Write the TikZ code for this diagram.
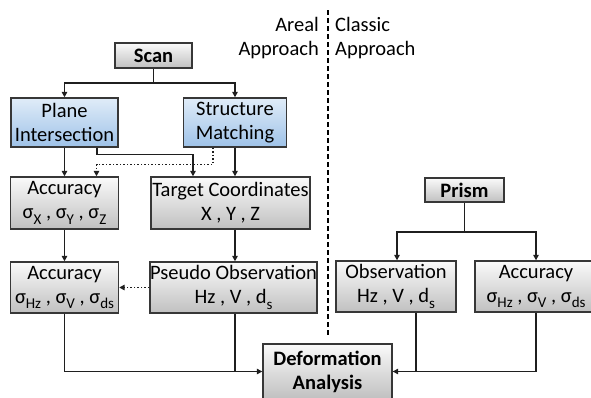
\documentclass[tikz,border=0pt]{standalone}
\usepackage{fontspec}
\setmainfont{Carlito}
\usetikzlibrary{arrows.meta,calc}
\definecolor{bluetop}{RGB}{224,236,248}
\definecolor{bluebot}{RGB}{158,194,232}
\definecolor{greytop}{RGB}{250,250,250}
\definecolor{greybot}{RGB}{192,192,192}
\definecolor{edge}{RGB}{55,55,55}
\newcommand\sbs[1]{\raisebox{-0.27em}{\fontsize{15}{15}\selectfont #1}}
\begin{document}
\begin{tikzpicture}[x=1pt,y=-1pt,
  box/.style={draw=edge, line width=1.4pt, top color=greytop, bottom color=greybot,
    align=center, font=\fontsize{20.5}{24}\selectfont, inner sep=0pt},
  bbox/.style={box, font=\fontsize{20.5}{24}\selectfont\bfseries},
  bluebox/.style={box, top color=bluetop, bottom color=bluebot},
  lbl/.style={font=\fontsize{20.5}{24}\selectfont, inner sep=0pt},
  conn/.style={line width=1.5pt, draw=black!88},
  arr/.style={conn, -{Triangle[length=5.5pt,width=5.5pt]}},
  darr/.style={arr, dotted, line width=1.5pt},
  sep/.style={line width=1.4pt, dash pattern=on 5pt off 3pt}]
\useasboundingbox (0,0) rectangle (591,397);

% separator and titles
\coordinate (dtop) at (328,10);
\coordinate (dbot) at (328,335);
\draw[sep] (dtop) -- (dbot);
\node[lbl, anchor=east, align=right] (areal) at (319,38) {Areal\\Approach};
\node[lbl, anchor=west, align=left] (classic) at (335,38) {Classic\\Approach};

% areal approach
\node[bbox, minimum width=77, minimum height=25] (scan) at (153.5,55.5) {Scan};
\node[bluebox, minimum width=107, minimum height=49] (plane) at (64.5,122.5) {Plane\\Intersection};
\node[bluebox, minimum width=103, minimum height=49] (struct) at (235,122.5) {Structure\\Matching};
\node[box, minimum width=108, minimum height=52] (acc1) at (64.5,203) {Accuracy\\σ\sbs{X} , σ\sbs{Y} , σ\sbs{Z}};
\node[box, minimum width=159, minimum height=52] (target) at (230.5,203) {Target Coordinates\\X , Y , Z};
\node[box, minimum width=108, minimum height=51] (acc2) at (64.5,287.5) {Accuracy\\σ\sbs{Hz} , σ\sbs{V} , σ\sbs{ds}};
\node[box, minimum width=165, minimum height=51] (pseudo) at (233.5,287.5) {Pseudo Observation\\Hz , V , d\sbs{s}};
\node[bbox, minimum width=129, minimum height=55] (deform) at (327.5,371.5) {Deformation\\Analysis};

% classic approach
\node[bbox, minimum width=79, minimum height=24] (prism) at (464.5,190) {Prism};
\node[box, minimum width=120, minimum height=51] (obs) at (396,286.5) {Observation\\Hz , V , d\sbs{s}};
\node[box, minimum width=122, minimum height=51] (acc3) at (536,286.5) {Accuracy\\σ\sbs{Hz} , σ\sbs{V} , σ\sbs{ds}};

% connectors: areal
\coordinate (sfork) at (153.5,83);
\draw[conn] (scan.south) -- (sfork);
\draw[arr] (sfork) -| (plane);
\draw[arr] (sfork) -| (struct);
\draw[arr] (plane) -- (acc1);
\draw[arr] ($(plane.south)+(32.5,0)$) |- ($(target.north)+(-37.5,-22)$) -- ($(target.north)+(-37.5,0)$);
\draw[arr] (struct.south) -- (struct.south |- target.north);
\draw[darr] ($(struct.south)+(-22,0)$) |- ($(acc1.north)+(32,-12)$) -- ($(acc1.north)+(32,0)$);
\draw[arr] (target.south -| struct.south) -- (pseudo.north -| struct.south);
\draw[arr] (acc1) -- (acc2);
\draw[darr] (pseudo.west) -- (acc2.east);
\draw[arr] (acc2) |- (deform.west);
\coordinate (pjoin) at (deform.west -| struct.south);
\draw[conn] (pseudo.south -| struct.south) -- (pjoin);

% connectors: classic
\coordinate (pfork) at (464.5,232);
\draw[conn] (prism.south) -- (pfork);
\draw[arr] (pfork) -| ($(obs.north)+(1,0)$);
\draw[arr] (pfork) -| (acc3);
\draw[conn] ($(obs.south)+(20,0)$) |- (deform.east);
\draw[arr] (acc3) |- (deform.east);
\end{tikzpicture}
\end{document}
